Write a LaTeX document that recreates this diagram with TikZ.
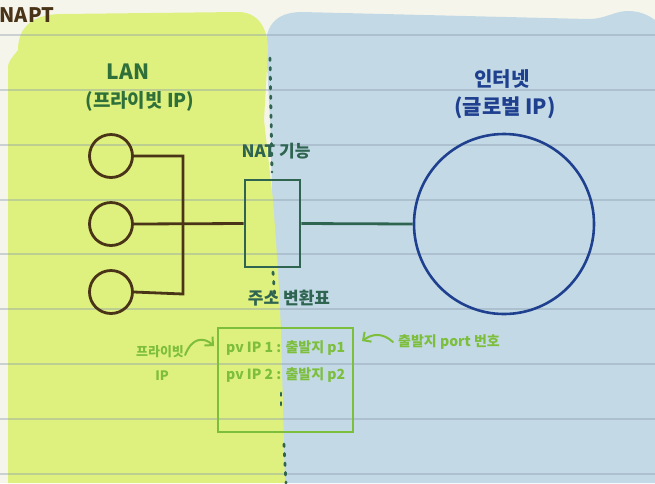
\documentclass[tikz,border=0pt]{standalone}
\usepackage{fontspec}
\setmainfont{Noto Sans CJK KR}
\usetikzlibrary{arrows.meta}
\definecolor{cream}{RGB}{246,245,236}
\definecolor{lime}{RGB}{222,240,126}
\definecolor{sky}{RGB}{195,218,230}
\definecolor{rule}{RGB}{140,155,175}
\definecolor{brown}{RGB}{74,52,24}
\definecolor{dgreen}{RGB}{47,112,58}
\definecolor{teal}{RGB}{46,100,80}
\definecolor{navy}{RGB}{31,63,143}
\definecolor{lgreen}{RGB}{125,190,60}
\tikzset{
  lancircle/.style={circle,draw=brown,line width=2.8pt,minimum size=43pt,inner sep=0pt},
  wire/.style={line width=2.8pt},
  handtxt/.style={inner sep=0pt,font=\bfseries\fontsize{19}{21}\selectfont},
  tabtxt/.style={inner sep=0pt,anchor=west,text=lgreen,font=\bfseries\fontsize{14}{16}\selectfont},
  hint/.style={draw=lgreen,line width=2pt,line cap=round,-{Straight Barb[length=6pt,width=12pt,line width=2pt]}},
  dots/.style={draw=teal,line width=2.8pt,line cap=round,dash pattern=on 2.5pt off 7pt}
}
\begin{document}
\begin{tikzpicture}[x=1pt,y=-1pt]
\useasboundingbox (0,0) rectangle (655,483);
\fill[cream] (0,0) rectangle (655,483);
% blue area
\fill[sky] (282,483) -- (274,260) -- (270,120) -- (266,45) .. controls (266,22) and (280,12) .. (302,12)
  -- (588,19) .. controls (606,19) and (614,11) .. (628,11) .. controls (640,11) and (648,15) .. (655,20)
  -- (655,483) -- cycle;
% green area
\fill[lime] (8,483) -- (8,68) .. controls (8,60) and (14,56) .. (18,50)
  .. controls (18,26) and (34,14) .. (62,14) -- (238,12) .. controls (258,12) and (268,28) .. (268,50)
  -- (264,120) -- (273,200) -- (278,270) -- (281,330) -- (285,483) -- cycle;
% ruled lines
\foreach \y in {35,90,145,200,254,309,364,419,474}
  \draw[rule,opacity=0.4,line width=1.2pt] (0,\y) -- (655,\y);
% dotted divider
\draw[dots] (270,58) -- (272,172);
\draw[dots] (273,272) -- (275,300);
\draw[dots] (281,393) -- (281,408);
\draw[dots] (284,444) -- (286,483);

\node[text=brown,inner sep=0pt,font=\bfseries\fontsize{20}{22}\selectfont] (napt) at (27,15) {NAPT};

\node[handtxt,text=dgreen,font=\bfseries\fontsize{21}{23}\selectfont] (lan) at (128,72) {LAN};
\node[handtxt,text=dgreen] (lanip) at (140,101) {(프라이빗 IP)};

\node[handtxt,text=navy,font=\bfseries\fontsize{20}{22}\selectfont] (inetlab) at (502,79) {인터넷};
\node[handtxt,text=navy,font=\bfseries\fontsize{21}{23}\selectfont] (inetip) at (505,108) {(글로벌 IP)};

\node[handtxt,text=teal,font=\bfseries\fontsize{17}{19}\selectfont] (natlab) at (276,151) {NAT 기능};
\node[handtxt,text=teal,font=\bfseries\fontsize{17}{19}\selectfont] (tablab) at (289,298) {주소 변환표};

\node[lancircle] (c1) at (111,156) {};
\node[lancircle] (c2) at (111,224) {};
\node[lancircle] (c3) at (111,292) {};
\coordinate (b3) at (183,294);

\node[draw=teal,line width=2.8pt,minimum width=55pt,minimum height=87pt,inner sep=0pt] (nat) at (272.5,223.5) {};
\node[circle,draw=navy,line width=2.6pt,minimum size=180pt,inner sep=0pt] (inet) at (504,224) {};

\draw[wire,draw=brown] (c1.east) -| (b3) -- (c3.east);
\draw[wire,draw=brown] (c2.east) -- (nat.west);
\draw[wire,draw=teal] (nat.east) -- (inet.west);

% translation table
\node[draw=lgreen,line width=2.6pt,minimum width=135pt,minimum height=104pt,inner sep=0pt] (tab) at (285.5,380) {};
\node[tabtxt] (row1) at (226,348) {pv IP 1 : 출발지 p1};
\node[tabtxt] (row2) at (226,375) {pv IP 2 : 출발지 p2};

\node[handtxt,text=lgreen,font=\bfseries\fontsize{13}{15}\selectfont] (pvlab) at (160,352) {프라이빗};
\node[handtxt,text=lgreen,font=\bfseries\fontsize{13}{15}\selectfont] (pvip) at (162,376) {IP};
\coordinate (a1) at (214,346);
\draw[hint] ([xshift=1pt,yshift=-3pt]pvlab.east) .. controls (192,337) and (204,337) .. (a1);

\node[handtxt,text=lgreen,font=\bfseries\fontsize{14}{16}\selectfont,anchor=west] (portlab) at (398,342) {출발지 port 번호};
\coordinate (a2) at (362,341);
\draw[hint] ([xshift=-5pt]portlab.west) .. controls (382,332) and (372,334) .. (a2);
\end{tikzpicture}
\end{document}
